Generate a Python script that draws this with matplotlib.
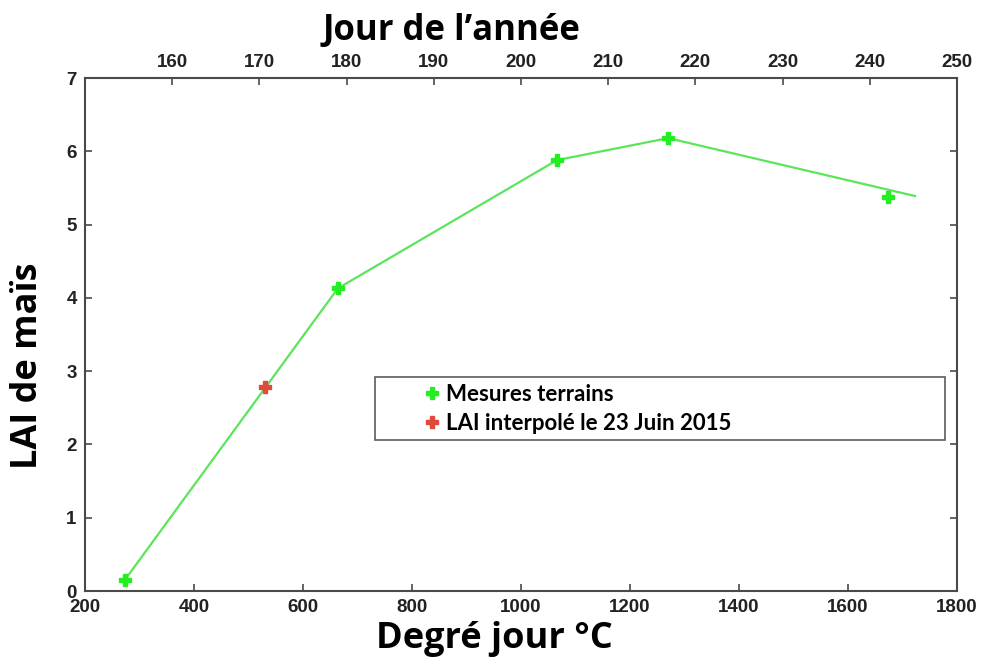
import matplotlib.pyplot as plt

# Data
line_dj = [273, 664, 1066, 1270, 1723]
line_lai = [0.15, 4.13, 5.88, 6.18, 5.39]

mesures_dj = [273, 664, 1066, 1270, 1673]
mesures_lai = [0.15, 4.13, 5.88, 6.18, 5.37]

interp_dj = [530]
interp_lai = [2.78]

x_ticks = [200, 400, 600, 800, 1000, 1200, 1400, 1600, 1800]
y_ticks = [0, 1, 2, 3, 4, 5, 6, 7]
jour_ticks = [160, 170, 180, 190, 200, 210, 220, 230, 240, 250]

lab_font = ['Open Sans', 'DejaVu Sans']
tick_font = ['Liberation Sans', 'DejaVu Sans']
spine_col = '#4a4a4a'

fig = plt.figure(figsize=(9.87, 6.67), dpi=100)
ax = fig.add_axes([0.0861, 0.1139, 0.8835, 0.7691])

ax.plot(line_dj, line_lai, color='#5be55b', lw=1.6, zorder=2)
ax.plot(mesures_dj, mesures_lai, ls='none', marker='P', ms=8,
        color='#22ee22', mec='#22ee22', zorder=3, label='Mesures terrains')
ax.plot(interp_dj, interp_lai, ls='none', marker='P', ms=8,
        color='#e04a3a', mec='#e04a3a', zorder=3, label='LAI interpolé le 23 Juin 2015')

ax.set_xlim(200, 1800)
ax.set_ylim(0, 7)
ax.set_xticks(x_ticks)
ax.set_yticks(y_ticks)
ax.tick_params(direction='in', length=5, width=1.2, color=spine_col,
               right=True, top=False, labelsize=13.5)
ax.tick_params(axis='y', pad=6)
ax.tick_params(axis='x', pad=6)
for lab in ax.get_xticklabels() + ax.get_yticklabels():
    lab.set_family(tick_font)
    lab.set_fontweight('bold')
    lab.set_color('#222222')
for s in ax.spines.values():
    s.set_color(spine_col)
    s.set_linewidth(1.5)

ax.set_xlabel('Degré jour °C', fontsize=26, fontweight='bold', family=lab_font)
ax.xaxis.set_label_coords(0.469, -0.058)
ax.set_ylabel('LAI de maïs', fontsize=26, fontweight='bold', family=lab_font)
ax.yaxis.set_label_coords(-0.045, 0.439)

# top axis: day of year
top = ax.twiny()
top.set_xlim(150, 250)
top.set_xticks(jour_ticks)
top.tick_params(direction='in', length=5, width=1.2, color=spine_col, labelsize=13.5, pad=5)
for lab in top.get_xticklabels():
    lab.set_family(tick_font)
    lab.set_fontweight('bold')
    lab.set_color('#222222')
for s in top.spines.values():
    s.set_visible(False)
top.set_xlabel('Jour de l’année', fontsize=25, fontweight='bold', family=lab_font)
top.xaxis.set_label_coords(0.42, 1.075)

leg = ax.legend(loc='upper left', bbox_to_anchor=(0.333, 0.30, 0.653, 0.117), mode='expand',
                frameon=True, fancybox=False, handlelength=4.5, handletextpad=-1.6,
                borderpad=0.3, labelspacing=0.35, borderaxespad=0,
                prop={'family': ['Lato', 'DejaVu Sans'], 'weight': 'bold', 'size': 16})
leg.get_frame().set_edgecolor('#333333')
leg.get_frame().set_linewidth(1.2)

fig.savefig('out.png', dpi=100)
